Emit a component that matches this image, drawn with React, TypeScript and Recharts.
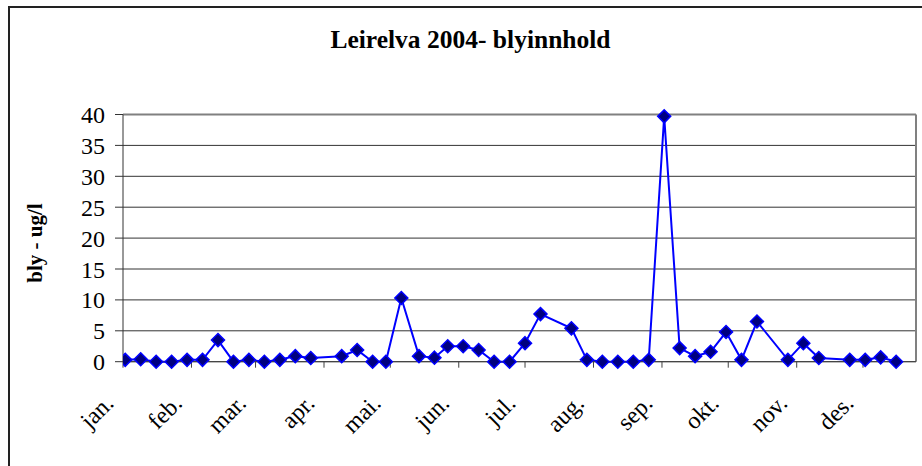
import React from "react"
import {
  LineChart,
  Line,
  XAxis,
  YAxis,
  CartesianGrid,
  ReferenceLine,
  Label,
} from "recharts"

// sample day (day of year, 0 = 1 jan) and lead content in ug/l
const days = [
  1, 8, 15, 22, 29, 36, 43, 50, 57, 64, 71, 78, 85, 99, 106, 113, 119, 126,
  134, 141, 147, 154, 161, 168, 175, 182, 189, 203, 210, 217, 224, 231, 238,
  245, 252, 259, 266, 273, 280, 287, 301, 308, 315, 329, 336, 343, 350,
]
const bly = [
  0.3, 0.4, 0, 0, 0.3, 0.3, 3.5, 0, 0.3, 0, 0.3, 0.9, 0.6, 0.9, 1.9, 0, 0,
  10.3, 0.9, 0.65, 2.5, 2.5, 1.9, 0, 0, 3.0, 7.7, 5.4, 0.3, 0, 0, 0, 0.3,
  39.7, 2.2, 0.9, 1.6, 4.8, 0.3, 6.5, 0.3, 3.0, 0.6, 0.3, 0.3, 0.7, 0,
]
const monthStarts = [0, 31, 60, 91, 121, 152, 182, 213, 244, 274, 305, 335]
const monthNames = [
  "jan.", "feb.", "mar.", "apr.", "mai.", "jun.",
  "jul.", "aug.", "sep.", "okt.", "nov.", "des.",
]
const yTicks = [0, 5, 10, 15, 20, 25, 30, 35, 40]

const data = days.map((d, i) => ({ day: d, bly: bly[i] }))

const serif = "'Liberation Serif', 'Times New Roman', serif"

const Diamond = (props: any) => {
  const { cx, cy } = props
  if (cx == null || cy == null) return null
  const r = 6.5
  return (
    <polygon
      points={`${cx},${cy - r} ${cx + r},${cy} ${cx},${cy + r} ${cx - r},${cy}`}
      fill="#000080"
      stroke="#0000FF"
      strokeWidth={1.5}
    />
  )
}

const MonthTick = (props: any) => {
  const { x, y, payload } = props
  const idx = monthStarts.indexOf(payload.value)
  const tx = x - 8
  const ty = y + 37
  return (
    <text
      x={tx}
      y={ty}
      transform={`rotate(-45, ${tx}, ${ty})`}
      textAnchor="end"
      fontFamily={serif}
      fontSize={24}
      fill="#000"
    >
      {monthNames[idx]}
    </text>
  )
}

const YTitle = () => (
  <text
    x={35}
    y={243}
    transform="rotate(-90, 35, 243)"
    textAnchor="middle"
    dominantBaseline="central"
    fontFamily={serif}
    fontWeight="bold"
    fontSize={21}
    fill="#000"
  >
    bly - ug/l
  </text>
)

export default function App() {
  return (
    <div
      style={{
        position: "absolute",
        left: 0,
        top: 0,
        width: 922,
        height: 466,
        overflow: "hidden",
        background: "#fff",
      }}
    >
      <div
        style={{
          position: "absolute",
          left: 8,
          top: 6,
          width: 940,
          height: 480,
          border: "2px solid #222",
        }}
      />
      <div
        style={{
          position: "absolute",
          left: 0,
          width: 941,
          top: 26,
          textAlign: "center",
          fontFamily: serif,
          fontWeight: "bold",
          fontSize: 25.5,
          lineHeight: "28px",
          color: "#000",
        }}
      >
        Leirelva 2004- blyinnhold
      </div>
      <div style={{ position: "absolute", left: 0, top: 0 }}>
        <LineChart
          width={922}
          height={466}
          data={data}
          margin={{ top: 114.5, right: 6, bottom: 74.3, left: 60 }}
        >
          <CartesianGrid
            horizontal={true}
            vertical={false}
            stroke="#333"
            strokeWidth={1}
          />
          <XAxis
            dataKey="day"
            type="number"
            domain={[0, 359]}
            ticks={monthStarts}
            tick={<MonthTick />}
            tickSize={6}
            tickMargin={0}
            interval={0}
            height={30}
            stroke="#404040"
            allowDataOverflow
          />
          <YAxis
            type="number"
            domain={[0, 40]}
            ticks={yTicks}
            width={63}
            tickSize={8}
            tickMargin={10}
            interval={0}
            stroke="#333"
            tick={{ fontFamily: serif, fontSize: 24, fill: "#000" }}
          >
            <Label content={<YTitle />} />
          </YAxis>
          <ReferenceLine y={40} stroke="#808080" strokeWidth={2} />
          <ReferenceLine x={359} stroke="#808080" strokeWidth={2} />
          <Line
            type="linear"
            dataKey="bly"
            stroke="#0000FF"
            strokeWidth={2}
            dot={<Diamond />}
            isAnimationActive={false}
          />
        </LineChart>
      </div>
    </div>
  )
}
